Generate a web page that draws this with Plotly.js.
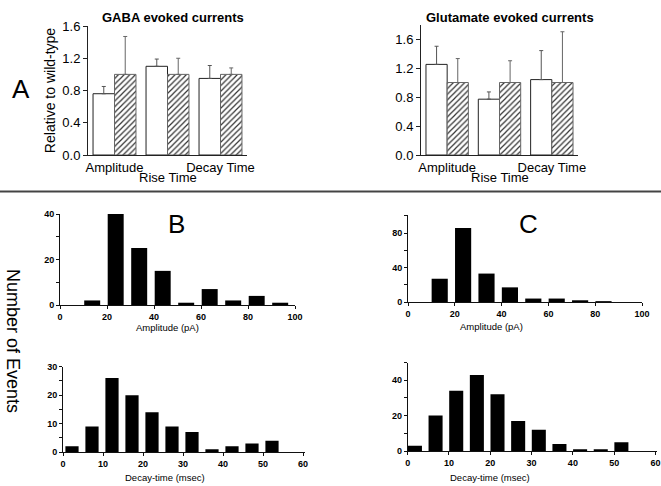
<!DOCTYPE html>
<html>
<head>
<meta charset="utf-8">
<script src="https://cdn.plot.ly/plotly-3.0.1.min.js"></script>
<style>html,body{margin:0;padding:0;background:#fff;}#chart{width:661px;height:486px;}</style>
</head>
<body>
<div id="chart"></div>
<script>
// ---- Data ----
const categories = ["Amplitude", "Rise Time", "Decay Time"];
const tickLabelsA = ["Amplitude", "", "Decay Time"];

const gabaMutant = [0.76, 1.10, 0.95];
const gabaMutantErrTop = [0.85, 1.19, 1.11];
const gabaWildType = [1.0, 1.0, 1.0];
const gabaWildTypeErrTop = [1.47, 1.20, 1.08];

const gluMutant = [1.25, 0.77, 1.04];
const gluMutantErrTop = [1.50, 0.87, 1.44];
const gluWildType = [1.0, 1.0, 1.0];
const gluWildTypeErrTop = [1.33, 1.30, 1.70];

const ampBins = [0, 10, 20, 30, 40, 50, 60, 70, 80, 90];
const ampCountsB = [0, 2, 40, 25, 15, 1, 7, 2, 4, 1];
const ampCountsC = [0, 27, 86, 33, 17, 4, 4, 2, 1, 0];

const decayBins = [0, 5, 10, 15, 20, 25, 30, 35, 40, 45, 50, 55];
const decayCountsB = [2, 9, 26, 20, 14, 9, 7, 1, 2, 3, 4, 0];
const decayCountsC = [3, 20, 34, 43, 32, 17, 12, 4, 1, 1, 5, 0];

// ---- Helpers ----
const FONT = "Liberation Sans, Arial, Helvetica, sans-serif";
const W = 661, H = 486;
const px = v => v / W;
const py = v => 1 - v / H;
const diff = (a, b) => a.map((v, i) => v - b[i]);

function whiteBar(xa, ya, vals, tops) {
  return {
    type: "bar", x: categories, y: vals, xaxis: xa, yaxis: ya,
    marker: { color: "#ffffff", line: { color: "#222", width: 1 } },
    error_y: { type: "data", symmetric: false, array: diff(tops, vals), arrayminus: vals.map(() => 0),
      color: "#555", thickness: 1, width: 2 },
    offsetgroup: "a", hoverinfo: "skip"
  };
}
function hatchBar(xa, ya, vals, tops) {
  return {
    type: "bar", x: categories, y: vals, xaxis: xa, yaxis: ya,
    marker: { color: "#ffffff", line: { color: "#666", width: 1 },
      pattern: { shape: "/", fgcolor: "#333", bgcolor: "#ffffff", size: 4, solidity: 0.3 } },
    error_y: { type: "data", symmetric: false, array: diff(tops, vals), arrayminus: vals.map(() => 0),
      color: "#666", thickness: 1, width: 2 },
    offsetgroup: "b", hoverinfo: "skip"
  };
}
function histBar(xa, ya, bins, counts, offset, width) {
  return {
    type: "bar", x: bins, y: counts, xaxis: xa, yaxis: ya,
    offset: offset, width: counts.map(() => width),
    marker: { color: "#000", line: { width: 0 } }, hoverinfo: "skip"
  };
}

const data = [
  whiteBar("x", "y", gabaMutant, gabaMutantErrTop),
  hatchBar("x", "y", gabaWildType, gabaWildTypeErrTop),
  whiteBar("x2", "y2", gluMutant, gluMutantErrTop),
  hatchBar("x2", "y2", gluWildType, gluWildTypeErrTop),
  histBar("x3", "y3", ampBins, ampCountsB, 0.3, 6.8),
  histBar("x4", "y4", ampBins, ampCountsC, 0.1, 6.9),
  histBar("x5", "y5", decayBins, decayCountsB, 0.6, 3.3),
  histBar("x6", "y6", decayBins, decayCountsC, 0.05, 3.4)
];

const axA = {
  type: "category", range: [-0.5, 2.5], showline: true, linecolor: "#222", linewidth: 1,
  ticks: "", tickvals: categories, ticktext: tickLabelsA, tickangle: 0,
  tickfont: { family: FONT, size: 13, color: "#000" }, showgrid: false, zeroline: false, fixedrange: true
};
const ayA = {
  showline: true, linecolor: "#222", linewidth: 1, ticks: "outside", ticklen: 4, tickcolor: "#222",
  tickvals: [0, 0.4, 0.8, 1.2, 1.6], tickformat: ".1f",
  tickfont: { family: FONT, size: 13, color: "#000" }, showgrid: false, zeroline: false
};
const TF = { family: FONT, size: 9, color: "#000", weight: "bold" };
const hx = (range, dtick) => ({
  range: range, showline: true, linecolor: "#111", linewidth: 1, ticks: "outside", ticklen: 3,
  tickcolor: "#111", dtick: dtick, tick0: 0, tickangle: 0, tickfont: TF,
  showgrid: false, zeroline: false
});
const hy = (range, vals, texts) => ({
  range: range, showline: true, linecolor: "#111", linewidth: 1, ticks: "outside", ticklen: 3,
  tickcolor: "#111", tickvals: vals, ticktext: texts, tickfont: TF,
  showgrid: false, zeroline: false
});
const label = (text, x, y, size, extra) => Object.assign({
  text: text, xref: "paper", yref: "paper", x: px(x), y: py(y), showarrow: false,
  font: { family: FONT, size: size, color: "#000" }, xanchor: "center", yanchor: "middle"
}, extra || {});

const layout = {
  width: W, height: H, margin: { l: 0, r: 0, t: 0, b: 0 },
  paper_bgcolor: "#fff", plot_bgcolor: "rgba(0,0,0,0)",
  showlegend: false, barmode: "group", bargap: 0.19, bargroupgap: 0,
  font: { family: FONT, color: "#000" },

  xaxis: Object.assign({}, axA, { domain: [px(88), px(247)], anchor: "y" }),
  yaxis: Object.assign({}, ayA, { domain: [py(155), py(26)], range: [0, 1.6], anchor: "x",
    title: { text: "Relative to wild-type", font: { family: FONT, size: 14 }, standoff: 3 } }),

  xaxis2: Object.assign({}, axA, { domain: [px(421), px(578)], anchor: "y2" }),
  yaxis2: Object.assign({}, ayA, { domain: [py(155), py(24.5)], range: [0, 1.8], anchor: "x2" }),

  xaxis3: Object.assign(hx([0, 100], 20), { domain: [px(60), px(295)], anchor: "y3" }),
  yaxis3: Object.assign(hy([0, 40], [0, 10, 20, 30, 40], ["0", "", "20", "", "40"]),
    { domain: [py(305), py(214)], anchor: "x3" }),

  xaxis4: Object.assign(hx([0, 100], 20), { domain: [px(408), px(642)], anchor: "y4" }),
  yaxis4: Object.assign(hy([0, 101], [0, 20, 40, 60, 80, 100], ["0", "", "40", "", "80", ""]),
    { domain: [py(302), py(215)], anchor: "x4" }),

  xaxis5: Object.assign(hx([0, 60.5], 10), { domain: [px(63), px(305)], anchor: "y5" }),
  yaxis5: Object.assign(hy([0, 30], [0, 5, 10, 15, 20, 25, 30], ["0", "", "10", "", "20", "", "30"]),
    { domain: [py(452), py(366.7)], anchor: "x5" }),

  xaxis6: Object.assign(hx([0, 60.3], 10), { domain: [px(407.7), px(656.7)], anchor: "y6" }),
  yaxis6: Object.assign(hy([0, 50], [0, 10, 20, 30, 40, 50], ["0", "", "20", "", "40", ""]),
    { domain: [py(451), py(362.5)], anchor: "x6" }),

  shapes: [
    { type: "line", xref: "paper", yref: "paper", x0: 0, x1: 1, y0: py(191.5), y1: py(191.5),
      line: { color: "#444", width: 2 } }
  ],
  annotations: [
    label("<b>GABA evoked currents</b>", 173, 17, 13),
    label("<b>Glutamate evoked currents</b>", 510, 17, 13),
    // staggered category label (second row) placed at its category on each axis
    { text: "Rise Time", xref: "x", yref: "paper", x: "Rise Time", y: py(177), showarrow: false,
      font: { family: FONT, size: 13, color: "#000" }, xanchor: "center", yanchor: "middle" },
    { text: "Rise Time", xref: "x2", yref: "paper", x: "Rise Time", y: py(177), showarrow: false,
      font: { family: FONT, size: 13, color: "#000" }, xanchor: "center", yanchor: "middle" },
    label("A", 21, 89, 26),
    label("B", 176, 224, 26),
    label("C", 528, 224, 26),
    label("Number of Events", 13, 341, 18, { textangle: 90 }),
    label("Amplitude (pA)", 167.5, 327, 9.5),
    label("Amplitude (pA)", 491.5, 326, 9.5),
    label("Decay-time (msec)", 165, 477, 9.5),
    label("Decay-time (msec)", 490, 477, 9.5)
  ]
};

Plotly.newPlot("chart", data, layout, { staticPlot: true, displayModeBar: false });
</script>
</body>
</html>
